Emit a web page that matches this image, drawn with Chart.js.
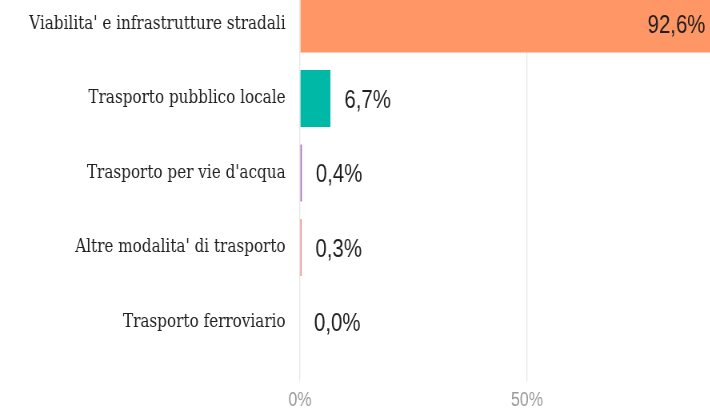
<!DOCTYPE html>
<html>
<head>
<meta charset="utf-8">
<script src="https://cdn.jsdelivr.net/npm/chart.js@4"></script>
<style>
  html, body { margin: 0; padding: 0; background: #fff; overflow: hidden; }
  #wrap { position: relative; width: 710px; height: 409px; overflow: hidden; }
  #box { position: absolute; left: 0; top: -20px; width: 960px; height: 460px;
         transform: scaleX(0.8); transform-origin: 0 0; }
</style>
</head>
<body>
<div id="wrap"><div id="box"><canvas id="c"></canvas></div></div>
<script>
const categories = [
  "Viabilita' e infrastrutture stradali",
  "Trasporto pubblico locale",
  "Trasporto per vie d'acqua",
  "Altre modalita' di trasporto",
  "Trasporto ferroviario"
];
const shares = [92.6, 6.7, 0.4, 0.3, 0.0];
const barColors = ["#FF9665", "#00B8A6", "#9E6AB0", "#F25555", "#8C8C8C"];
const xTicks = [0, 50];

const valueLabels = {
  id: 'valueLabels',
  afterDatasetsDraw(chart) {
    const ctx = chart.ctx;
    const meta = chart.getDatasetMeta(0);
    ctx.save();
    ctx.font = "25.5px 'Liberation Sans', Arial, sans-serif";
    ctx.fillStyle = "#1e1e1e";
    ctx.textBaseline = "middle";
    meta.data.forEach((bar, i) => {
      const v = shares[i];
      const txt = v.toFixed(1).replace('.', ',') + '%';
      if (v > 50) {
        ctx.textAlign = "right";
        ctx.fillText(txt, bar.x - 18.75, bar.y + 2);
      } else {
        ctx.textAlign = "left";
        ctx.fillText(txt, bar.x + 17.5, bar.y + 2);
      }
    });
    ctx.restore();
  }
};

new Chart(document.getElementById('c'), {
  type: 'bar',
  data: {
    labels: categories,
    datasets: [{
      data: shares,
      backgroundColor: barColors,
      borderWidth: 0,
      barPercentage: 0.765,
      categoryPercentage: 1.0
    }]
  },
  options: {
    indexAxis: 'y',
    responsive: true,
    maintainAspectRatio: false,
    animation: false,
    layout: { padding: { top: 6.75, right: 17.5, left: 0, bottom: 0 } },
    plugins: { legend: { display: false }, tooltip: { enabled: false } },
    scales: {
      x: {
        min: 0, max: 100,
        afterFit: (s) => { s.height = 80.75; s.paddingLeft = 0; s.paddingRight = 0; },
        afterBuildTicks: (s) => { s.ticks = xTicks.map(v => ({ value: v })); },
        border: { display: false },
        grid: { color: "#e6e6e6", lineWidth: 1.25, drawTicks: true, tickLength: 22, tickColor: "#e6e6e6", tickWidth: 1.25 },
        ticks: {
          padding: 7,
          color: "#999",
          font: { family: "'Liberation Sans', Arial, sans-serif", size: 20 },
          callback: (v) => v + '%'
        }
      },
      y: {
        afterFit: (s) => { s.width = 375; s.paddingTop = 0; s.paddingBottom = 0; },
        border: { display: false },
        grid: { display: false },
        ticks: {
          padding: 10,
          color: "#1e1e1e",
          font: { family: "'DejaVu Serif', serif", size: 19 }
        }
      }
    }
  },
  plugins: [valueLabels]
});
</script>
</body>
</html>
